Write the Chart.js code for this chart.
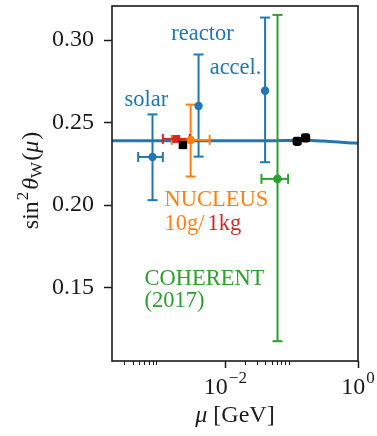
<!DOCTYPE html>
<html>
<head>
<meta charset="utf-8">
<script src="https://cdn.jsdelivr.net/npm/chart.js@4.4.1/dist/chart.umd.min.js"></script>
<style>
  html, body { margin: 0; padding: 0; background: #fff; }
  canvas { display: block; }
</style>
</head>
<body>
<canvas id="chart" width="377" height="436"></canvas>
<script>
// Running weak mixing angle sin^2(theta_W) versus scale mu [GeV]
const muGrid      = [1.95e-4, 1e-3, 1e-2, 0.05, 0.08, 0.1, 0.13, 0.16, 0.2, 0.3, 0.5, 0.7, 1.0];
const sin2Running = [0.2390, 0.2390, 0.2390, 0.2390, 0.2391, 0.2392, 0.2393, 0.2393, 0.2392, 0.2388, 0.2382, 0.2378, 0.2375];

// Neutrino-electron scattering: solar, reactor, accelerator
const nuEMu      = [7.96e-4, 3.94e-3, 0.0397];
const nuESin2    = [0.2292, 0.2601, 0.2693];
const nuESin2Lo  = [0.2030, 0.2294, 0.2260];
const nuESin2Hi  = [0.2550, 0.2913, 0.3137];
const nuEMuLo    = [4.84e-4, null, null];
const nuEMuHi    = [1.14e-3, null, null];

// COHERENT (2017)
const coherentMu     = [0.0611];
const coherentSin2   = [0.2159];
const coherentSin2Lo = [0.1175];
const coherentSin2Hi = [0.3153];
const coherentMuLo   = [0.0350];
const coherentMuHi   = [0.0883];

// NUCLEUS projections: 10 g and 1 kg
const nucleus10gMu     = [2.99e-3];
const nucleus10gSin2   = [0.2395];
const nucleus10gSin2Lo = [0.2173];
const nucleus10gSin2Hi = [0.2609];
const nucleus10gMuLo   = [1.55e-3];
const nucleus10gMuHi   = [5.79e-3];

const nucleus1kgMu   = [1.82e-3];
const nucleus1kgSin2 = [0.2401];
const nucleus1kgMuLo = [1.14e-3];
const nucleus1kgMuHi = [2.90e-3];

// Other low-energy measurements (APV, Qweak, E158)
const otherMu   = [2.29e-3, 0.121, 0.162];
const otherSin2 = [0.2365, 0.2387, 0.2407];

// Axis ticks
const xMajorTicks = [1e-2, 1];
const xMajorExp   = ['\u22122', '0'];
const xMinorTicks = [3e-4, 4e-4, 5e-4, 6e-4, 7e-4, 8e-4, 9e-4,
                     2e-2, 3e-2, 4e-2, 5e-2, 6e-2, 7e-2, 8e-2, 9e-2];
const yTicks = [0.15, 0.20, 0.25, 0.30];

const BLUE = '#1f77b4', ORANGE = '#ff7f0e', GREEN = '#2ca02c', RED = '#d62728';
const INK = '#1a1a1a';
const SERIF = "'Liberation Serif', 'DejaVu Serif', serif";

// Text labels placed in data coordinates (left edge, baseline)
const textLabels = [
  { runs: [{ text: 'solar', color: BLUE }],            mu: 3.0e-4,  s: 0.2598 },
  { runs: [{ text: 'reactor', color: BLUE }],          mu: 1.53e-3, s: 0.3002 },
  { runs: [{ text: 'accel.', color: BLUE }],           mu: 5.79e-3, s: 0.2796 },
  { runs: [{ text: 'NUCLEUS', color: ORANGE }],        mu: 1.21e-3, s: 0.1994 },
  { runs: [{ text: '10g/', color: ORANGE }, { text: '1kg', color: RED, gap: 3 }], mu: 1.21e-3, s: 0.1847 },
  { runs: [{ text: 'COHERENT', color: GREEN }],        mu: 6.03e-4, s: 0.1518 },
  { runs: [{ text: '(2017)', color: GREEN }],          mu: 6.03e-4, s: 0.1381 }
];

const pts = (xs, ys) => xs.map((x, i) => ({ x: x, y: ys[i] }));

const errorGroups = [
  { color: BLUE,   mu: nuEMu, s: nuESin2, sLo: nuESin2Lo, sHi: nuESin2Hi, muLo: nuEMuLo, muHi: nuEMuHi },
  { color: GREEN,  mu: coherentMu, s: coherentSin2, sLo: coherentSin2Lo, sHi: coherentSin2Hi, muLo: coherentMuLo, muHi: coherentMuHi },
  { color: ORANGE, mu: nucleus10gMu, s: nucleus10gSin2, sLo: nucleus10gSin2Lo, sHi: nucleus10gSin2Hi, muLo: nucleus10gMuLo, muHi: nucleus10gMuHi },
  { color: RED,    mu: nucleus1kgMu, s: nucleus1kgSin2, sLo: null, sHi: null, muLo: nucleus1kgMuLo, muHi: nucleus1kgMuHi }
];

function seg(ctx, x1, y1, x2, y2) {
  ctx.beginPath(); ctx.moveTo(x1, y1); ctx.lineTo(x2, y2); ctx.stroke();
}

function drawErrorBars(chart) {
  const ctx = chart.ctx, xs = chart.scales.x, ys = chart.scales.y;
  const cap = 5;
  ctx.save();
  ctx.lineWidth = 2;
  ctx.lineCap = 'butt';
  errorGroups.forEach(g => {
    ctx.strokeStyle = g.color;
    g.mu.forEach((m, i) => {
      const px = xs.getPixelForValue(m), py = ys.getPixelForValue(g.s[i]);
      if (g.sLo && g.sLo[i] != null) {
        const yl = ys.getPixelForValue(g.sLo[i]), yh = ys.getPixelForValue(g.sHi[i]);
        seg(ctx, px, yl, px, yh);
        seg(ctx, px - cap, yl, px + cap, yl);
        seg(ctx, px - cap, yh, px + cap, yh);
      }
      if (g.muLo && g.muLo[i] != null) {
        const xl = xs.getPixelForValue(g.muLo[i]), xh = xs.getPixelForValue(g.muHi[i]);
        seg(ctx, xl, py, xh, py);
        seg(ctx, xl, py - cap, xl, py + cap);
        seg(ctx, xh, py - cap, xh, py + cap);
      }
    });
  });
  ctx.restore();
}

function fontOf(r, size) {
  return (r.italic ? 'italic ' : '') + (r.size || size) + 'px ' + SERIF;
}

// Draws a sequence of text runs (mixed size/style/offset) starting at x or centred on x
function drawRuns(ctx, runs, x, y, size, align) {
  let total = 0;
  const widths = runs.map(r => {
    ctx.font = fontOf(r, size);
    const w = ctx.measureText(r.text).width + (r.gap || 0);
    total += w;
    return w;
  });
  let cx = align === 'center' ? x - total / 2 : x;
  ctx.textBaseline = 'alphabetic';
  ctx.textAlign = 'left';
  runs.forEach((r, i) => {
    ctx.font = fontOf(r, size);
    if (r.color) ctx.fillStyle = r.color;
    ctx.fillText(r.text, cx + (r.gap || 0), y + (r.dy || 0));
    cx += widths[i];
  });
}

const decorPlugin = {
  id: 'decor',
  afterDatasetDraw(chart, args) {
    // error bars sit above the running curve and below the markers
    if (args.index === chart.data.datasets.length - 1) drawErrorBars(chart);
  },
  afterDatasetsDraw(chart) {
    const ctx = chart.ctx, a = chart.chartArea, xs = chart.scales.x;
    ctx.save();
    // minor ticks on the log axis
    ctx.strokeStyle = INK;
    ctx.lineWidth = 1;
    xMinorTicks.forEach(v => {
      const px = Math.round(xs.getPixelForValue(v)) + 0.5;
      seg(ctx, px, a.bottom, px, a.bottom + 4);
    });
    // axes frame
    ctx.lineWidth = 1.6;
    ctx.strokeRect(a.left, a.top, a.right - a.left, a.bottom - a.top);
    ctx.restore();
  },
  afterDraw(chart) {
    const ctx = chart.ctx, a = chart.chartArea, xs = chart.scales.x, ys = chart.scales.y;
    ctx.save();
    ctx.fillStyle = INK;
    // x tick labels as powers of ten
    xMajorTicks.forEach((v, i) => {
      const px = xs.getPixelForValue(v);
      drawRuns(ctx, [{ text: '10', color: INK }, { text: xMajorExp[i], size: 17, dy: -11, gap: 1 }], px, 394, 24, 'center');
    });
    // x axis title
    drawRuns(ctx, [{ text: '\u03bc', italic: true, color: INK }, { text: ' [GeV]' }], (a.left + a.right) / 2, 422, 24, 'center');
    // y axis title
    ctx.save();
    ctx.translate(38, (a.top + a.bottom) / 2 - 3);
    ctx.rotate(-Math.PI / 2);
    drawRuns(ctx, [
      { text: 'sin', color: INK },
      { text: '2', size: 17, dy: -10, gap: 1 },
      { text: '\u03b8', italic: true, gap: 2 },
      { text: 'W', size: 17, dy: 4 },
      { text: '(', gap: 1 },
      { text: '\u03bc', italic: true },
      { text: ')', gap: 1 }
    ], 0, 0, 24, 'center');
    ctx.restore();
    // in-plot labels
    textLabels.forEach(l => {
      drawRuns(ctx, l.runs, xs.getPixelForValue(l.mu), ys.getPixelForValue(l.s), 22.5, 'left');
    });
    ctx.restore();
  }
};

const markerBase = { showLine: false, borderWidth: 0 };

new Chart(document.getElementById('chart'), {
  type: 'scatter',
  data: {
    datasets: [
      Object.assign({}, markerBase, {
        label: 'APV / Qweak / E158',
        data: pts(otherMu, otherSin2),
        pointStyle: ['rect', 'rectRounded', 'rectRounded'],
        pointRadius: [6, 5.4, 5.4],
        backgroundColor: '#000', borderColor: '#000'
      }),
      Object.assign({}, markerBase, {
        label: 'NUCLEUS 1kg',
        data: pts(nucleus1kgMu, nucleus1kgSin2),
        pointStyle: 'rect', pointRadius: 5.6,
        backgroundColor: RED, borderColor: RED
      }),
      Object.assign({}, markerBase, {
        label: 'NUCLEUS 10g',
        data: pts(nucleus10gMu, nucleus10gSin2),
        pointStyle: 'circle', pointRadius: 4.3,
        backgroundColor: ORANGE, borderColor: ORANGE
      }),
      Object.assign({}, markerBase, {
        label: 'COHERENT',
        data: pts(coherentMu, coherentSin2),
        pointStyle: 'circle', pointRadius: 4.3,
        backgroundColor: GREEN, borderColor: GREEN
      }),
      Object.assign({}, markerBase, {
        label: 'nu-e scattering',
        data: pts(nuEMu, nuESin2),
        pointStyle: 'circle', pointRadius: 4.2,
        backgroundColor: BLUE, borderColor: BLUE
      }),
      {
        label: 'running',
        data: pts(muGrid, sin2Running),
        showLine: true,
        pointRadius: 0,
        borderColor: BLUE,
        borderWidth: 3,
        cubicInterpolationMode: 'monotone'
      }
    ]
  },
  options: {
    responsive: false,
    devicePixelRatio: 1,
    animation: false,
    layout: { padding: { left: 0, right: 19, top: 5, bottom: 0 } },
    plugins: { legend: { display: false }, tooltip: { enabled: false } },
    scales: {
      x: {
        type: 'logarithmic',
        min: 1.95e-4,
        max: 1,
        afterBuildTicks: s => { s.ticks = xMajorTicks.map(v => ({ value: v, major: true })); },
        ticks: { display: false },
        grid: { display: true, drawOnChartArea: false, drawTicks: true, tickLength: 7, tickColor: INK, tickWidth: 1.5 },
        border: { display: false },
        afterFit: s => { s.height = 75; s.paddingLeft = 0; s.paddingRight = 0; }
      },
      y: {
        type: 'linear',
        min: 0.1055,
        max: 0.3207,
        afterBuildTicks: s => { s.ticks = yTicks.map(v => ({ value: v })); },
        ticks: {
          color: INK,
          padding: 10,
          font: { family: SERIF, size: 24 },
          callback: v => Number(v).toFixed(2)
        },
        grid: { display: true, drawOnChartArea: false, drawTicks: true, tickLength: 8, tickColor: INK, tickWidth: 1.5 },
        border: { display: false },
        afterFit: s => { s.width = 112; s.paddingTop = 0; s.paddingBottom = 0; }
      }
    }
  },
  plugins: [decorPlugin]
});
</script>
</body>
</html>
